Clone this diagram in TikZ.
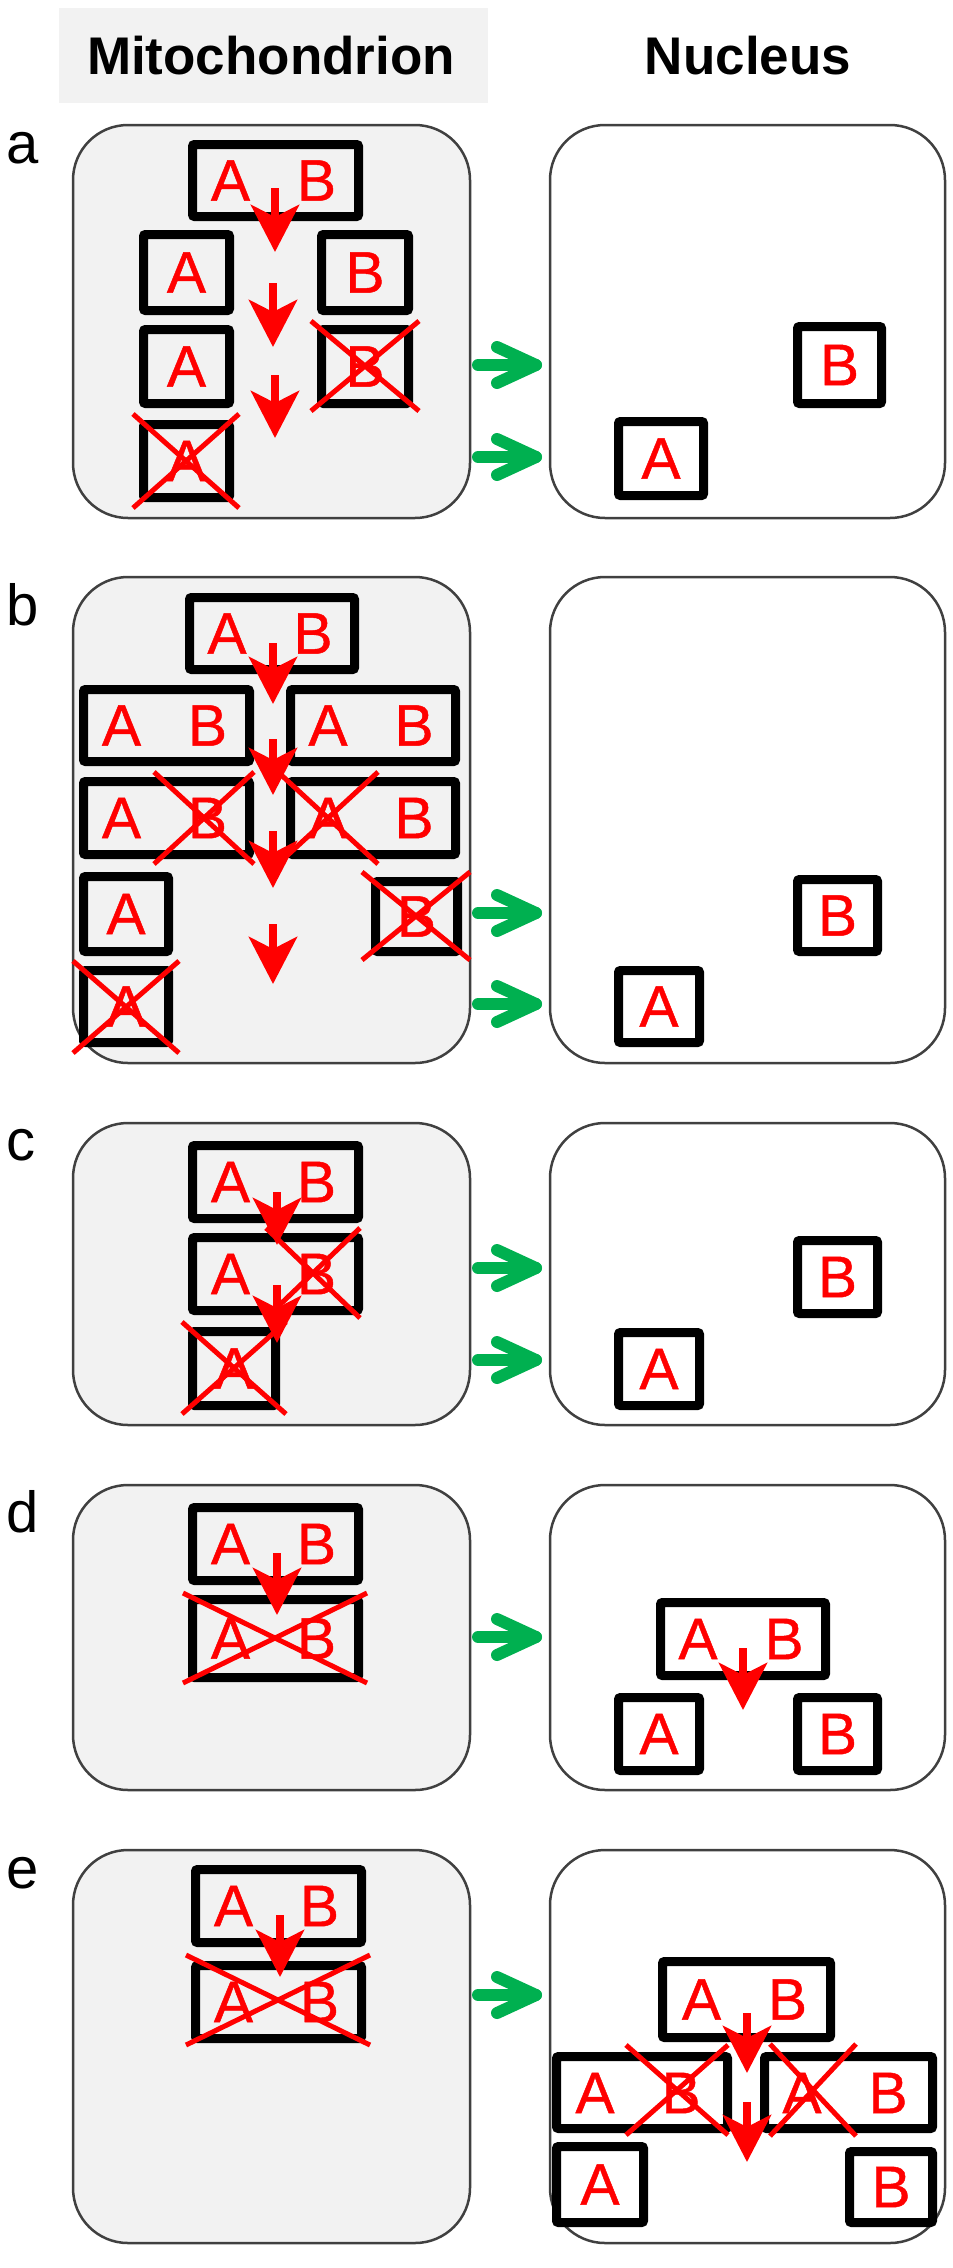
\documentclass[tikz,border=0pt]{standalone}
\usepackage{fontspec}
\setmainfont{Liberation Sans}
\newfontfamily\letfont[FakeBold=0.8]{Liberation Sans}
\usetikzlibrary{arrows.meta}
\definecolor{mitofill}{HTML}{F2F2F2}
\definecolor{outl}{HTML}{404040}
\definecolor{gr}{HTML}{00B050}
\definecolor{rd}{HTML}{FF0000}
\tikzset{
 cell/.style={draw=outl, line width=2.5pt, rounded corners=55pt},
 ibox/.style={draw=black, line width=9pt, rounded corners=2pt, inner sep=0pt, text=rd, font=\letfont\fontsize{58.7}{60}\selectfont},
 lbl/.style={text=rd, inner sep=0pt, font=\letfont\fontsize{58.7}{60}\selectfont},
 xout/.style={draw=rd, line width=5pt},
 down/.style={draw=rd, line width=8pt, -{Stealth[length=47pt,width=48pt,inset=12pt]}},
 gar/.style={draw=gr, line width=12pt, line cap=round, line join=round},
 plabel/.style={anchor=base west, inner sep=0pt, font=\fontsize{58}{60}\selectfont},
 head/.style={inner sep=0pt, font=\bfseries\fontsize{53}{55}\selectfont}
}
\newcommand\ib[6]{%
 \pgfmathsetmacro\ibcx{(#2+#4)/2}%
 \pgfmathsetmacro\ibcy{(#3+#5)/2}%
 \pgfmathsetmacro\ibw{#4-#2-9}%
 \pgfmathsetmacro\ibh{#5-#3-9}%
 \node[ibox, minimum width=\ibw pt, minimum height=\ibh pt] (#1) at (\ibcx,\ibcy) {#6};}
\newcommand\ablet[1]{\node[lbl] (#1-A) at ([xshift=-45pt]#1.center) {A}; \node[lbl] (#1-B) at ([xshift=41pt]#1.center) {B};}
\newcommand\xc[4]{\draw[xout] ({#1-#3},{#2-#4}) -- ({#1+#3},{#2+#4}) ({#1-#3},{#2+#4}) -- ({#1+#3},{#2-#4});}
\newcommand\garrow[1]{\draw[gar] (478,#1) -- (536,#1); \draw[gar] (497,{#1-18}) -- (536,#1) -- (497,{#1+18});}
\newcommand\rdown[3]{\draw[down] (#1,#2) -- (#1,#3);}
\begin{document}
\begin{tikzpicture}[x=1pt,y=-1pt]
\useasboundingbox (0,0) rectangle (953,2268);
% header
\node[fill=mitofill, minimum width=429pt, minimum height=95pt, inner sep=0pt] (hdr) at (273.5,55.5) {};
\node[head] (mito) at (271,56) {Mitochondrion};
\node[head] (nuc) at (748,56) {Nucleus};
% panel labels
\node[plabel] (la) at (6,163) {a};
\node[plabel] (lb) at (6,625) {b};
\node[plabel] (lc) at (6,1160) {c};
\node[plabel] (ld) at (6,1532) {d};
\node[plabel] (le) at (6,1888) {e};
% cells
\foreach \ya/\yb in {125/518, 577/1063, 1123/1425, 1485/1790, 1850/2243}{
 \draw[cell, fill=mitofill] (73,\ya) rectangle (470,\yb);
 \draw[cell, fill=white] (550,\ya) rectangle (945,\yb);
}
% ---- panel a
\ib{aAB}{188}{140}{363}{221}{}\ablet{aAB}
\ib{aA1}{139}{230}{234}{315}{A}
\ib{aB1}{317}{230}{413}{315}{B}
\ib{aA2}{139}{325}{234}{408}{A}
\ib{aB2}{317}{325}{413}{408}{B}
\ib{aA3}{139}{420}{234}{502}{A}
\xc{365}{366}{54}{45}
\xc{186}{461}{53}{47}
\rdown{275}{188}{252}
\rdown{273}{283}{347}
\rdown{275}{375}{438}
\garrow{365}\garrow{457}
\ib{naB}{793}{322}{886}{408}{B}
\ib{naA}{614}{417}{708}{500}{A}
% ---- panel b
\ib{bAB}{185}{593}{359}{674}{}\ablet{bAB}
\ib{bL1}{79}{685}{254}{766}{}\ablet{bL1}
\ib{bR1}{286}{685}{460}{766}{}\ablet{bR1}
\ib{bL2}{79}{777}{254}{859}{}\ablet{bL2}
\ib{bR2}{286}{777}{460}{859}{}\ablet{bR2}
\ib{bA1}{79}{872}{173}{956}{A}
\ib{bB1}{371}{877}{462}{956}{B}
\ib{bA2}{79}{966}{173}{1047}{A}
\xc{204}{818}{50}{46}
\xc{328}{818}{50}{46}
\xc{416}{916}{54}{44}
\xc{126}{1007}{53}{46}
\rdown{273}{643}{704}
\rdown{273}{739}{795}
\rdown{273}{831}{888}
\rdown{273}{924}{984}
\garrow{913}\garrow{1004}
\ib{nbB}{793}{875}{882}{956}{B}
\ib{nbA}{614}{966}{704}{1047}{A}
% ---- panel c
\ib{cAB}{188}{1141}{363}{1223}{}\ablet{cAB}
\ib{cAB2}{188}{1233}{363}{1315}{}\ablet{cAB2}
\ib{cA}{188}{1327}{280}{1410}{A}
\xc{313}{1273}{47}{45}
\xc{234}{1368}{52}{46}
\rdown{277}{1192}{1245}
\rdown{277}{1285}{1343}
\garrow{1268}\garrow{1360}
\ib{ncB}{793}{1236}{882}{1318}{B}
\ib{ncA}{614}{1328}{704}{1410}{A}
% ---- panel d
\ib{dAB}{188}{1503}{363}{1585}{}\ablet{dAB}
\ib{dAB2}{188}{1595}{363}{1682}{}\ablet{dAB2}
\xc{275}{1638}{92}{45}
\rdown{277}{1553}{1615}
\garrow{1637}
\ib{ndAB}{656}{1598}{830}{1680}{}\ablet{ndAB}
\ib{ndA}{614}{1693}{704}{1775}{A}
\ib{ndB}{793}{1693}{882}{1775}{B}
\rdown{743}{1648}{1710}
% ---- panel e
\ib{eAB}{191}{1865}{366}{1947}{}\ablet{eAB}
\ib{eAB2}{191}{1961}{366}{2043}{}\ablet{eAB2}
\xc{278}{2000}{92}{45}
\rdown{280}{1915}{1977}
\garrow{1995}
\ib{neAB}{658}{1957}{835}{2042}{}\ablet{neAB}
\ib{neL}{552}{2052}{732}{2133}{}
\node[lbl] (neL-A) at (595,2093) {A};
\node[lbl] (neL-B) at (681,2093) {B};
\ib{neR}{760}{2052}{937}{2133}{}
\node[lbl] (neR-A) at (802,2093) {A};
\node[lbl] (neR-B) at (888,2093) {B};
\ib{neA}{552}{2142}{648}{2227}{A}
\ib{neB}{845}{2147}{937}{2227}{B}
\xc{677}{2090}{51}{45}
\xc{813}{2090}{43}{46}
\rdown{747}{2013}{2073}
\rdown{747}{2102}{2162}
\end{tikzpicture}
\end{document}
